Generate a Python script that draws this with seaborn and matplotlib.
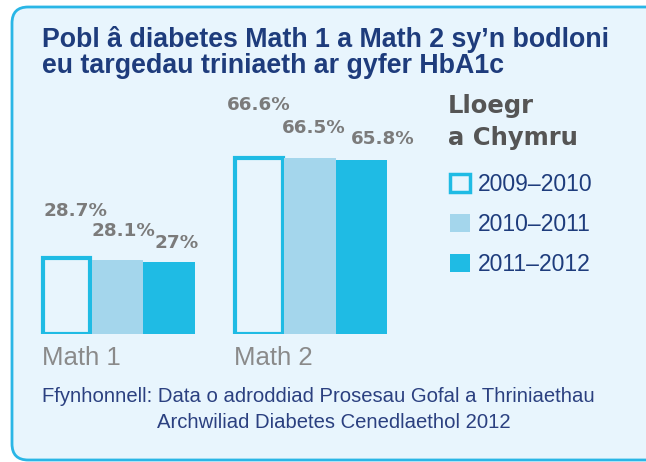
import matplotlib
matplotlib.use("Agg")
import matplotlib.pyplot as plt
from matplotlib.patches import FancyBboxPatch
import seaborn as sns
import pandas as pd

groups = ["Math 1", "Math 2"]
periods = ["2009–2010", "2010–2011", "2011–2012"]
values = {
    "2009–2010": [28.7, 66.6],
    "2010–2011": [28.1, 66.5],
    "2011–2012": [27.0, 65.8],
}
labels = {
    "2009–2010": ["28.7%", "66.6%"],
    "2010–2011": ["28.1%", "66.5%"],
    "2011–2012": ["27%", "65.8%"],
}
title_lines = ["Pobl â diabetes Math 1 a Math 2 sy’n bodloni",
               "eu targedau triniaeth ar gyfer HbA1c"]
legend_title_lines = ["Lloegr", "a Chymru"]
source1 = "Ffynhonnell: Data o adroddiad Prosesau Gofal a Thriniaethau"
source2 = "Archwiliad Diabetes Cenedlaethol 2012"

rows = []
for p in periods:
    for g, v in zip(groups, values[p]):
        rows.append({"group": g, "period": p, "value": v})
df = pd.DataFrame(rows)

BG = "#e8f5fd"
CYAN = "#1fbbe4"
LIGHT = "#a4d6ec"
NAVY = "#1e3c7c"
GREY = "#7b7b7b"

W, H = 646, 462
fig = plt.figure(figsize=(W / 100, H / 100), dpi=100, facecolor="white")

panel = FancyBboxPatch((12 / W, (H - 460) / H), 700 / W, 453 / H,
                       boxstyle="round,pad=0,rounding_size=0.025",
                       transform=fig.transFigure, facecolor=BG,
                       edgecolor="#2ab6e6", linewidth=2, mutation_aspect=W / H,
                       zorder=-10)
fig.patches.append(panel)

# axes: x -0.5..1.5 spans 21.25..406.25 px ; y 0..100 spans baseline 334 px upward 265 px
ax_left, ax_right = 21.25, 406.25
base_y, top_y = 334, 334 - 265
ax = fig.add_axes([ax_left / W, (H - base_y) / H, (ax_right - ax_left) / W, (base_y - top_y) / H])
ax.set_facecolor("none")
ax.set_zorder(1)

sns.barplot(data=df, x="group", y="value", hue="period", hue_order=periods,
            palette=[BG, LIGHT, CYAN], saturation=1, width=0.8, gap=0,
            legend=False, ax=ax, linewidth=0)
ax.set_xlim(-0.5, 1.5)
ax.set_ylim(0, 100)

for bar in ax.containers[0]:
    bar.set_edgecolor(CYAN)
    bar.set_linewidth(3)
    x0, w = bar.get_x(), bar.get_width()
    bar.set_x(x0 + 0.012)
    bar.set_width(w - 0.02)

# value labels (pixel offsets from bar left edge / top)
offsets = {
    0: [(1, 38), (-8, 44)],
    1: [(0, 20), (-2, 21)],
    2: [(11, 10), (15, 12)],
}
for i, p in enumerate(periods):
    for j, bar in enumerate(ax.containers[i]):
        dx, dy = offsets[i][j]
        ax.annotate(labels[p][j], xy=(bar.get_x(), bar.get_height()),
                    xytext=(dx, dy), textcoords="offset pixels",
                    ha="left", va="bottom", fontsize=13.2, fontweight="bold",
                    color=GREY, family="DejaVu Sans", annotation_clip=False)

ax.set_xticks([])
ax.set_yticks([])
ax.set_xlabel("")
ax.set_ylabel("")
for s in ax.spines.values():
    s.set_visible(False)

# category labels, left aligned at group left edge
for k, g in enumerate(groups):
    ax.annotate(g, xy=(k - 0.4, 0), xytext=(1, -31), textcoords="offset pixels",
                ha="left", va="baseline", fontsize=18.5,
                color="#8a8a8a", family="Liberation Sans", annotation_clip=False)

for k, line in enumerate(title_lines):
    fig.text(42 / W, 1 - (47 + 26 * k) / H, line, ha="left", va="baseline",
             fontsize=19.3, fontweight="bold", color=NAVY, family="Liberation Sans")

for k, line in enumerate(legend_title_lines):
    fig.text(448 / W, 1 - (113 + 32 * k) / H, line, ha="left", va="baseline",
             fontsize=17.5, fontweight="bold", color="#555555", family="DejaVu Sans")

handles = [c.patches[0] for c in ax.containers]
leg = fig.legend(handles, periods, loc="upper left",
                 bbox_to_anchor=(441 / W, 1 - 164 / H), frameon=False,
                 fontsize=16.5, handlelength=0.85, handleheight=0.85,
                 handletextpad=0.35, labelspacing=0.74, borderaxespad=0)
for t in leg.get_texts():
    t.set_color(NAVY)
    t.set_family("Liberation Sans")
for h in leg.legend_handles:
    h.set_linewidth(2.5 if h.get_edgecolor()[0] < 0.5 else 0)

fig.text(42 / W, 1 - 402 / H, source1, ha="left", va="baseline", fontsize=14.6,
         color="#2b4080", family="Liberation Sans")
fig.text(157 / W, 1 - 428 / H, source2, ha="left", va="baseline", fontsize=14.6,
         color="#2b4080", family="Liberation Sans")

fig.savefig("out.png", dpi=100, facecolor="white")
